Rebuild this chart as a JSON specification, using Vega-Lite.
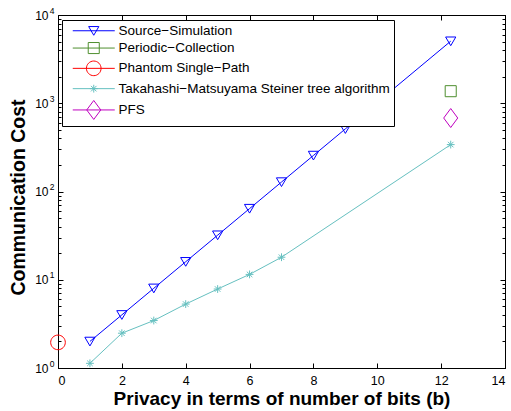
{
  "$schema": "https://vega.github.io/schema/vega-lite/v6.json",
  "autosize": {"type": "none"},
  "width": 447,
  "height": 353,
  "padding": {"left": 58, "top": 15, "right": 6, "bottom": 43},
  "background": "white",
  "config": {
    "view": {"stroke": "black", "strokeWidth": 1},
    "font": "Liberation Sans",
    "axis": {
      "grid": false,
      "domainColor": "black",
      "domainWidth": 1,
      "tickColor": "black",
      "labelColor": "black",
      "labelFont": "Liberation Sans",
      "labelFontSize": 12,
      "titleFont": "Liberation Sans",
      "titleFontWeight": "bold",
      "titleColor": "black"
    }
  },
  "data": {
    "values": [
      {"series": "Source−Simulation", "b": 1, "cost": 2},
      {"series": "Source−Simulation", "b": 2, "cost": 4},
      {"series": "Source−Simulation", "b": 3, "cost": 8},
      {"series": "Source−Simulation", "b": 4, "cost": 16},
      {"series": "Source−Simulation", "b": 5, "cost": 32},
      {"series": "Source−Simulation", "b": 6, "cost": 64},
      {"series": "Source−Simulation", "b": 7, "cost": 128},
      {"series": "Source−Simulation", "b": 8, "cost": 256},
      {"series": "Source−Simulation", "b": 9, "cost": 512},
      {"series": "Source−Simulation", "b": 12.3, "cost": 5050},
      {"series": "Periodic−Collection", "b": 12.3, "cost": 1370},
      {"series": "Phantom Single−Path", "b": 0, "cost": 1.95},
      {"series": "Takahashi−Matsuyama Steiner tree algorithm", "b": 1, "cost": 1.13},
      {"series": "Takahashi−Matsuyama Steiner tree algorithm", "b": 2, "cost": 2.48},
      {"series": "Takahashi−Matsuyama Steiner tree algorithm", "b": 3, "cost": 3.45},
      {"series": "Takahashi−Matsuyama Steiner tree algorithm", "b": 4, "cost": 5.3},
      {"series": "Takahashi−Matsuyama Steiner tree algorithm", "b": 5, "cost": 7.85},
      {"series": "Takahashi−Matsuyama Steiner tree algorithm", "b": 6, "cost": 11.5},
      {"series": "Takahashi−Matsuyama Steiner tree algorithm", "b": 7, "cost": 18},
      {"series": "Takahashi−Matsuyama Steiner tree algorithm", "b": 12.3, "cost": 340},
      {"series": "PFS", "b": 12.3, "cost": 680}
    ]
  },
  "resolve": {
    "scale": {"stroke": "independent", "shape": "independent"},
    "axis": {"x": "independent", "y": "independent"}
  },
  "layer": [
    {
      "mark": {"type": "line", "strokeWidth": 1},
      "encoding": {
        "x": {
          "field": "b", "type": "quantitative",
          "scale": {"domain": [0, 14], "nice": false, "zero": false},
          "axis": {
            "values": [0, 2, 4, 6, 8, 10, 12, 14],
            "tickSize": -5,
            "labelPadding": 11.5,
            "labelFontSize": 12.5,
            "title": "Privacy in terms of number of bits (b)",
            "titleFontSize": 19,
            "titlePadding": 2
          }
        },
        "y": {
          "field": "cost", "type": "quantitative",
          "scale": {"type": "log", "domain": [1, 10000], "nice": false},
          "axis": {
            "values": [1,2,3,4,5,6,7,8,9,10,20,30,40,50,60,70,80,90,100,200,300,400,500,600,700,800,900,1000,2000,3000,4000,5000,6000,7000,8000,9000,10000],
            "labelExpr": "indexof([1,10,100,1000,10000], datum.value) >= 0 ? '10' : ''",
            "tickSize": {"condition": {"test": "indexof([1,10,100,1000,10000], datum.value) >= 0", "value": -5}, "value": -3},
            "labelPadding": 15,
            "labelFontSize": 12,
            "title": "Communication Cost",
            "titleFontSize": 19.5,
            "titlePadding": 6,
            "titleY": 182
          }
        },
        "stroke": {
          "field": "series", "type": "nominal",
          "scale": {
            "domain": ["Source−Simulation", "Periodic−Collection", "Phantom Single−Path", "Takahashi−Matsuyama Steiner tree algorithm", "PFS"],
            "range": ["#0000ff", "#4f8f2f", "#ff0000", "#66c0c0", "#bf00bf"]
          },
          "legend": null
        }
      }
    },
    {
      "mark": {"type": "point", "filled": false, "strokeWidth": 1, "size": 144, "opacity": 1},
      "encoding": {
        "x": {"field": "b", "type": "quantitative", "axis": null},
        "y": {
          "field": "cost", "type": "quantitative",
          "axis": {
            "orient": "left",
            "values": [1, 10, 100, 1000, 10000],
            "labelExpr": "datum.value == 1 ? '0' : datum.value == 10 ? '1' : datum.value == 100 ? '2' : datum.value == 1000 ? '3' : '4'",
            "ticks": false,
            "domain": false,
            "labelFontSize": 8.5,
            "labelPadding": 4,
            "labelOffset": -5,
            "title": null
          }
        },
        "stroke": {
          "field": "series", "type": "nominal",
          "scale": {
            "domain": ["Source−Simulation", "Periodic−Collection", "Phantom Single−Path", "Takahashi−Matsuyama Steiner tree algorithm", "PFS"],
            "range": ["#0000ff", "#4f8f2f", "#ff0000", "#66c0c0", "#bf00bf"]
          },
          "legend": null
        },
        "shape": {
          "field": "series", "type": "nominal",
          "scale": {
            "domain": ["Source−Simulation", "Periodic−Collection", "Phantom Single−Path", "Takahashi−Matsuyama Steiner tree algorithm", "PFS"],
            "range": [
              "M-0.85,-0.7L0.85,-0.7L0,0.75Z",
              "M-0.92,-0.92H0.92V0.92H-0.92Z",
              "M1.22,0A1.22,1.22,0,1,1,-1.22,0A1.22,1.22,0,1,1,1.22,0Z",
              "M-0.65,0H0.65M0,-0.65V0.65M-0.46,-0.46L0.46,0.46M-0.46,0.46L0.46,-0.46",
              "M0,-1.58L1.17,0L0,1.58L-1.17,0Z"
            ]
          },
          "legend": null
        }
      }
    },
    {
      "mark": {"type": "point", "filled": false, "strokeWidth": 1, "size": 144, "opacity": 0},
      "encoding": {
        "x": {
          "field": "b", "type": "quantitative",
          "axis": {"orient": "top", "values": [0, 2, 4, 6, 8, 10, 12, 14], "labels": false, "tickSize": -5, "title": null}
        },
        "y": {
          "field": "cost", "type": "quantitative",
          "axis": {
            "orient": "right",
            "values": [1,2,3,4,5,6,7,8,9,10,20,30,40,50,60,70,80,90,100,200,300,400,500,600,700,800,900,1000,2000,3000,4000,5000,6000,7000,8000,9000,10000],
            "labels": false,
            "tickSize": {"condition": {"test": "indexof([1,10,100,1000,10000], datum.value) >= 0", "value": -5}, "value": -3},
            "title": null
          }
        },
        "stroke": {
          "field": "series", "type": "nominal",
          "scale": {
            "domain": ["Source−Simulation", "Periodic−Collection", "Phantom Single−Path", "Takahashi−Matsuyama Steiner tree algorithm", "PFS"],
            "range": ["#0000ff", "#4f8f2f", "#ff0000", "#66c0c0", "#bf00bf"]
          },
          "legend": {
            "orient": "none",
            "legendX": 4,
            "legendY": 5,
            "title": null,
            "strokeColor": "black",
            "fillColor": "white",
            "padding": 4,
            "symbolOpacity": 1,
            "symbolStrokeWidth": 1,
            "symbolSize": 144,
            "labelFont": "Liberation Sans",
            "labelFontSize": 13.5,
            "labelColor": "black",
            "labelOffset": 39,
            "rowPadding": 2.3,
            "labelLimit": 400
          }
        },
        "shape": {
          "field": "series", "type": "nominal",
          "scale": {
            "domain": ["Source−Simulation", "Periodic−Collection", "Phantom Single−Path", "Takahashi−Matsuyama Steiner tree algorithm", "PFS"],
            "range": [
              "M0,0H7M2.65,-0.7L4.35,-0.7L3.5,0.75Z",
              "M0,0H7M2.58,-0.92H4.42V0.92H2.58Z",
              "M0,0H7M4.72,0A1.22,1.22,0,1,1,2.28,0A1.22,1.22,0,1,1,4.72,0Z",
              "M0,0H7M2.85,0H4.15M3.5,-0.65V0.65M3.04,-0.46L3.96,0.46M3.04,0.46L3.96,-0.46",
              "M0,0H7M3.5,-1.58L4.67,0L3.5,1.58L2.33,0Z"
            ]
          },
          "legend": {
            "orient": "none",
            "legendX": 4,
            "legendY": 5,
            "title": null,
            "strokeColor": "black",
            "fillColor": "white",
            "padding": 4,
            "symbolOpacity": 1,
            "symbolStrokeWidth": 1,
            "symbolSize": 144,
            "labelFont": "Liberation Sans",
            "labelFontSize": 13.5,
            "labelColor": "black",
            "labelOffset": 39,
            "rowPadding": 2.3,
            "labelLimit": 400
          }
        }
      }
    }
  ]
}
